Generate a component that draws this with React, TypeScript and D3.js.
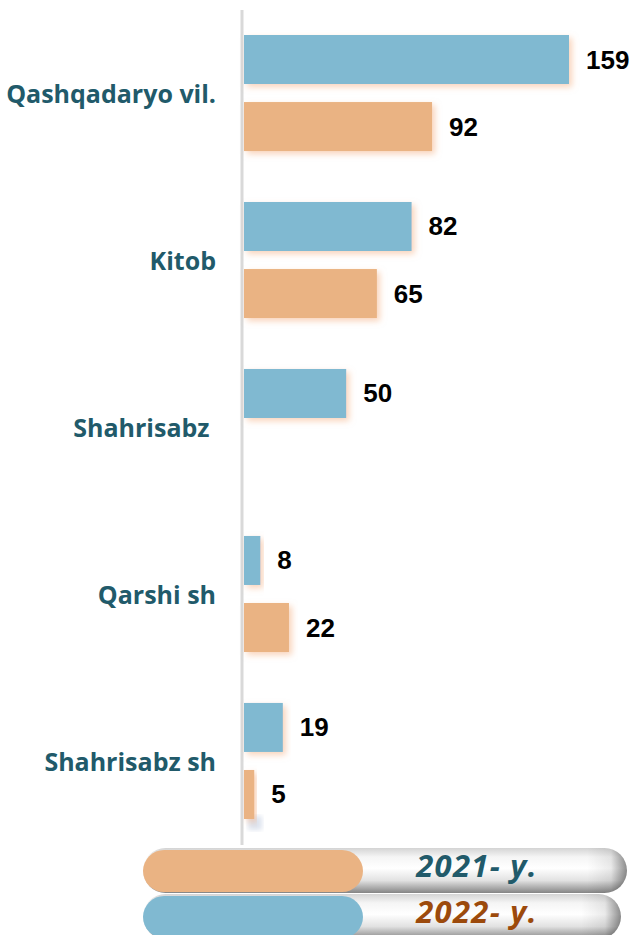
import React from "react";
import * as d3 from "d3";

const categories = ["Qashqadaryo vil.", "Kitob", "Shahrisabz ", "Qarshi sh", "Shahrisabz sh"];
const seriesKeys = ["2022", "2021"];
const values2022: (number | null)[] = [159, 82, 50, 8, 19];
const values2021: (number | null)[] = [92, 65, null, 22, 5];
const legendLabels = ["2021- y.", "2022- y."];

const W = 633;
const H = 935;
const BLUE = "#80b9d1";
const ORANGE = "#eab383";
const TEAL = "#215a6a";
const BROWN = "#9c4a0c";

export default function App() {
  const x = d3.scaleLinear().domain([0, 159]).range([244, 569]);
  const y = d3.scaleBand<string>().domain(categories).range([35, 819]).paddingInner(0.305).paddingOuter(0);
  const ys = d3.scaleBand<string>().domain(seriesKeys).range([0, y.bandwidth()]).paddingInner(0.269);
  const colorOf: Record<string, string> = { "2022": BLUE, "2021": ORANGE };
  const valsOf: Record<string, (number | null)[]> = { "2022": values2022, "2021": values2021 };

  const legend = [
    { label: legendLabels[0], color: ORANGE, text: TEAL, y: 848, w: 484 },
    { label: legendLabels[1], color: BLUE, text: BROWN, y: 894, w: 478 },
  ];

  return (
    <svg width={W} height={H} style={{ position: "absolute", left: 0, top: 0 }} xmlns="http://www.w3.org/2000/svg">
      <defs>
        <filter id="glow" x="-10%" y="-30%" width="130%" height="180%">
          <feDropShadow dx="3" dy="3" stdDeviation="3" floodColor="#f4b183" floodOpacity="0.55" />
        </filter>
        <linearGradient id="pill" x1="0" y1="0" x2="0" y2="1">
          <stop offset="0" stopColor="#d4d4d4" />
          <stop offset="0.2" stopColor="#f5f5f5" />
          <stop offset="0.45" stopColor="#ffffff" />
          <stop offset="0.72" stopColor="#e2e2e2" />
          <stop offset="1" stopColor="#858585" />
        </linearGradient>
        <linearGradient id="pillEnd" x1="0" y1="0" x2="1" y2="0">
          <stop offset="0" stopColor="#000" stopOpacity="0" />
          <stop offset="0.6" stopColor="#000" stopOpacity="0.08" />
          <stop offset="1" stopColor="#000" stopOpacity="0.45" />
        </linearGradient>
        <filter id="blur1">
          <feGaussianBlur stdDeviation="2.5" />
        </filter>
      </defs>
      <rect width={W} height={H} fill="#fff" />

      {/* axis line */}
      <line x1={242} x2={242} y1={10} y2={845} stroke="#d9d9d9" strokeWidth={3} />
      <rect x={248} y={816} width={14} height={14} fill="#dde3ee" filter="url(#blur1)" />

      {categories.map((c, i) => (
        <g key={c}>
          <text
            x={216}
            y={(y(c) as number) + y.bandwidth() / 2}
            textAnchor="end"
            dominantBaseline="central"
            fontFamily="'Open Sans', sans-serif"
            fontWeight={700}
            fontSize={25}
            fill={TEAL}
            style={{ whiteSpace: "pre" }}
          >
            {c}
          </text>
          {seriesKeys.map((s) => {
            const v = valsOf[s][i];
            if (v == null) return null;
            const by = (y(c) as number) + (ys(s) as number);
            return (
              <g key={s}>
                <rect x={x(0)} y={by} width={x(v) - x(0)} height={ys.bandwidth()} fill={colorOf[s]} filter="url(#glow)" />
                <text
                  x={x(v) + 17}
                  y={by + ys.bandwidth() / 2}
                  dominantBaseline="central"
                  fontFamily="'Liberation Sans', Arial, sans-serif"
                  fontWeight={700}
                  fontSize={26}
                  fill="#000"
                >
                  {v}
                </text>
              </g>
            );
          })}
        </g>
      ))}

      {/* legend */}
      {legend.map((l) => {
        const h = 45;
        return (
          <g key={l.label}>
            <clipPath id={"clip" + l.y}>
              <rect x={143} y={l.y} width={l.w} height={h} rx={h / 2} />
            </clipPath>
            <rect x={143} y={l.y} width={l.w} height={h} rx={h / 2} fill="url(#pill)" />
            <rect x={143 + l.w - 40} y={l.y} width={40} height={h} fill="url(#pillEnd)" clipPath={`url(#clip${l.y})`} />
            <rect x={143} y={l.y + 2} width={220} height={42} rx={21} fill={l.color} />
            <text
              x={477}
              y={l.y + 29}
              textAnchor="middle"
              fontFamily="'Open Sans', sans-serif"
              fontWeight={700}
              fontStyle="italic"
              fontSize={31}
              letterSpacing={1.3}
              fill={l.text}
            >
              {l.label}
            </text>
          </g>
        );
      })}
    </svg>
  );
}
